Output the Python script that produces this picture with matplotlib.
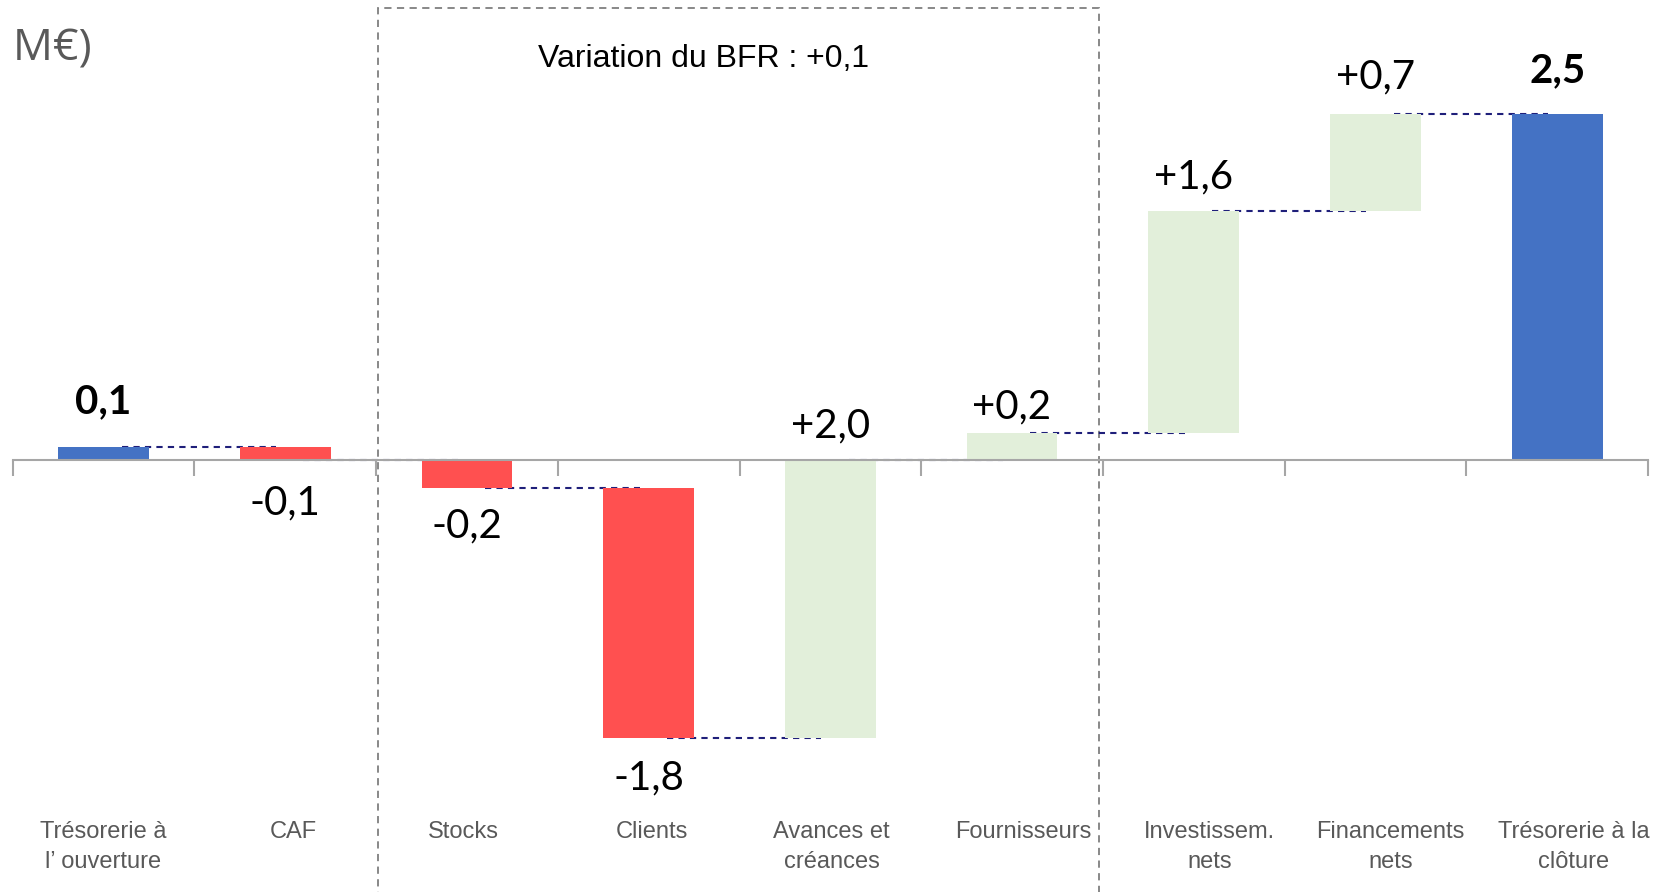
import numpy as np
import matplotlib.pyplot as plt
from matplotlib.patches import Rectangle
import matplotlib.transforms as mtransforms

categories = ["Trésorerie à\nl\u2019 ouverture", "CAF", "Stocks", "Clients",
              "Avances et\ncréances", "Fournisseurs", "Investissem.\nnets",
              "Financements\nnets", "Trésorerie à la\nclôture"]
values = [0.1, -0.1, -0.2, -1.8, 2.0, 0.2, 1.6, 0.7, 2.5]
is_total = [True, False, False, False, False, False, False, False, True]
value_labels = ["0,1", "-0,1", "-0,2", "-1,8", "+2,0", "+0,2", "+1,6", "+0,7", "2,5"]

# layout tweaks (points / category units)
label_offsets = [32, -30.5, -27.5, -29, 24.5, 18.5, 24.5, 26.5, 31]
cat_shift = [0, 0.047, -0.017, 0.017, 0.006, 0.064, 0.087, 0.082, 0.093]

BLUE = "#4472C4"
RED = "#FF5050"
GREEN = "#E2EFDA"
GREY_TXT = "#595959"

# waterfall geometry
bottoms, heights, colors, running = [], [], [], []
total = 0.0
for v, tot in zip(values, is_total):
    if tot:
        bottoms.append(0.0)
        heights.append(v)
        colors.append(BLUE)
        total = v
    else:
        bottoms.append(total if v > 0 else total + v)
        heights.append(abs(v))
        colors.append(GREEN if v > 0 else RED)
        total += v
    running.append(total)

fig = plt.figure(figsize=(16.6, 8.92), dpi=100)
ax = fig.add_axes([12.7 / 1660, 0, 1635.3 / 1660, 1])
x = np.arange(len(values))
ax.bar(x, heights, bottom=bottoms, width=0.5, color=colors, zorder=2)

# connectors
for i in range(len(values) - 1):
    ax.plot([i + 0.1, i + 0.95], [running[i], running[i]], ls=(0, (3, 2.5)),
            color="#1F1F7A", lw=1.5, zorder=1)

# value labels
for i, (b, h, v, lab, tot, off) in enumerate(zip(bottoms, heights, values, value_labels,
                                                 is_total, label_offsets)):
    anchor = b + h if v > 0 else b
    ax.annotate(lab, (i, anchor), xytext=(0, off), textcoords="offset points",
                ha="center", va="center", fontsize=29, family="Lato",
                fontweight="bold" if tot else "normal", color="black")

ax.set_xlim(-0.5, len(values) - 0.5)
ax.set_ylim(-3.113, 3.322)
for s in ["top", "right", "left"]:
    ax.spines[s].set_visible(False)
ax.spines["bottom"].set_position(("data", 0))
ax.spines["bottom"].set_color("#A6A6A6")
ax.spines["bottom"].set_linewidth(1.5)
ax.set_yticks([])
ax.set_xticks(np.arange(-0.5, len(values), 1.0))
ax.set_xticklabels([])
ax.tick_params(axis="x", direction="out", length=11.5, width=1.5, color="#A6A6A6")

# category labels
trans = mtransforms.blended_transform_factory(ax.transData, ax.transAxes)
for i, c in enumerate(categories):
    ax.text(i + cat_shift[i], 1 - 821 / 892, c, transform=trans, ha="center", va="top",
            fontsize=17, color=GREY_TXT, linespacing=1.45, family="Liberation Sans")

# BFR box
ax.add_patch(Rectangle((1.509, -0.05), 5.481 - 1.509, 1.0405, transform=trans,
                       fill=False, ls=(0, (4, 3)), lw=1.3, edgecolor="#7F7F7F",
                       clip_on=False, zorder=0))
ax.text(3.30, 1 - 59 / 892, "Variation du BFR : +0,1", transform=trans,
        ha="center", va="center", fontsize=23, family="Liberation Sans", color="black")

fig.text(92 / 1660, 1 - 61 / 892, "(en M\u20ac)", ha="right", va="baseline",
         fontsize=32, family="Open Sans", color=GREY_TXT)

fig.savefig("out.png", dpi=100)
